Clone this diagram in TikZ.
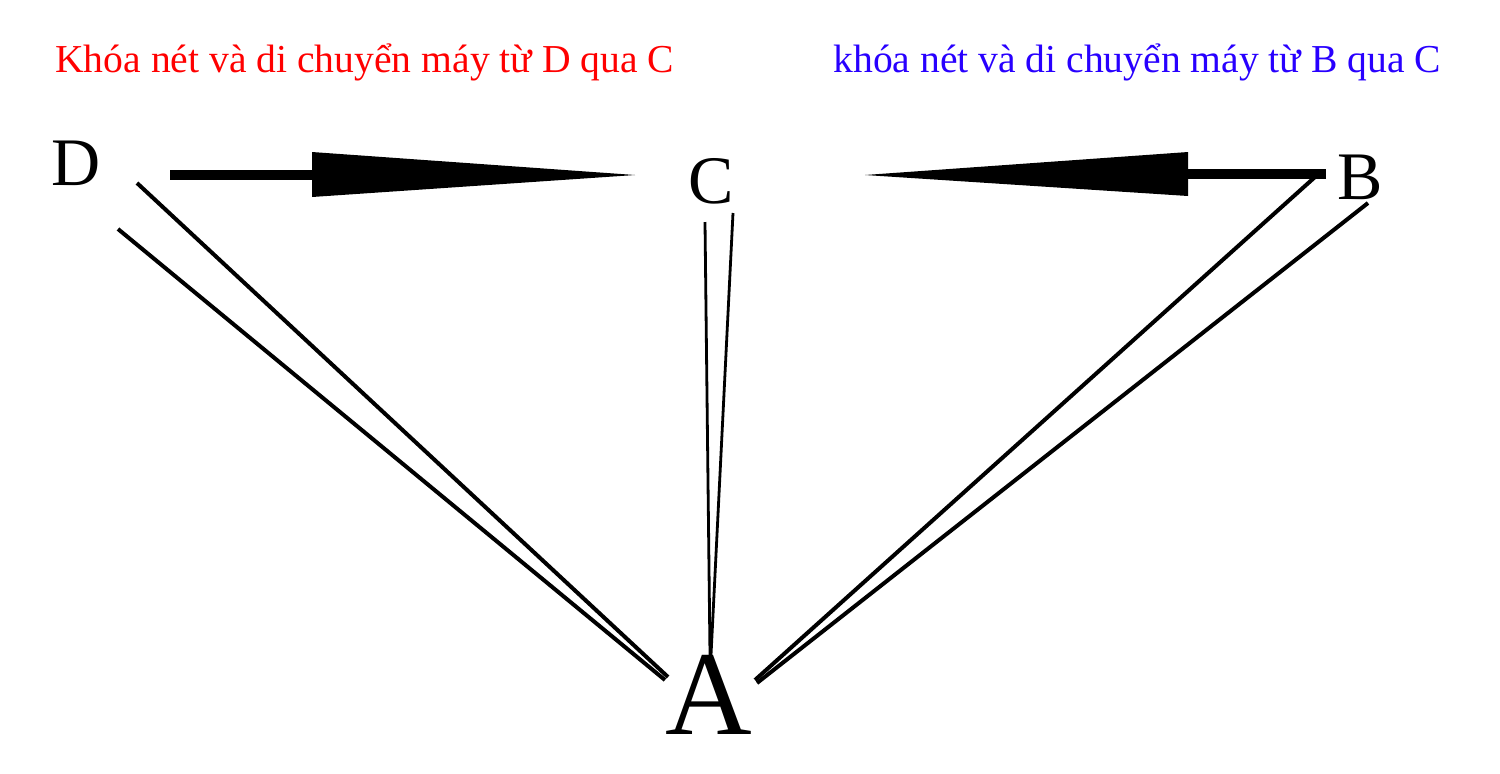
\documentclass[tikz,border=0pt]{standalone}
\usepackage{fontspec}
\setmainfont{Liberation Serif}
\definecolor{tred}{RGB}{255,0,0}
\definecolor{tblue}{RGB}{40,0,255}
\tikzset{
	pt/.style={inner sep=0pt,font=\fontsize{34}{34}\selectfont},
	note/.style={anchor=base west,inner sep=0pt,font=\fontsize{19.8}{22}\selectfont},
	leg/.style={line width=2pt},
	thin leg/.style={line width=1.4pt},
	shaft/.style={line width=5pt}
}
\begin{document}
\begin{tikzpicture}[x=0.5pt,y=0.5pt,yscale=-1,xscale=1]
		\useasboundingbox (0,0) rectangle (1500,773);
		\draw (55,72) node (redtxt) [note,text=tred] {Khóa nét và di chuyển máy từ D qua C};
		\draw (833,72) node (bluetxt) [note,text=tblue] {khóa nét và di chuyển máy từ B qua C};
		\draw (76,163) node (D) [pt] {D};
		\draw (711,181) node (C) [pt] {C};
		\draw (1360,177) node (B) [pt] {B};
		\draw (709,695) node (A) [inner sep=0pt,font=\fontsize{60}{60}\selectfont] {A};
		% D qua C
		\coordinate (dtail) at (170,175);
		\coordinate (dhead) at (312,175);
		\coordinate (dtip) at (635,175);
		\draw [shaft] (dtail) -- (dhead);
		\fill (312,152) -- (dtip) -- (312,197) -- cycle;
		% B qua C
		\coordinate (btail) at (1326,174);
		\coordinate (bhead) at (1188,174);
		\coordinate (btip) at (865,175);
		\draw [shaft] (btail) -- (bhead);
		\fill (1188,152) -- (btip) -- (1188,196) -- cycle;
		% D -- A
		\draw [leg] (137,183) -- (668,677);
		\draw [leg] (118,229) -- (665,680);
		% C -- A
		\draw [thin leg] (705,222) -- (710,655);
		\draw [thin leg] (733,213) -- (711,655);
		% B -- A
		\draw [leg] (1315,177) -- (755,680);
		\draw [leg] (1368,203) -- (757,683);
\end{tikzpicture}
\end{document}
